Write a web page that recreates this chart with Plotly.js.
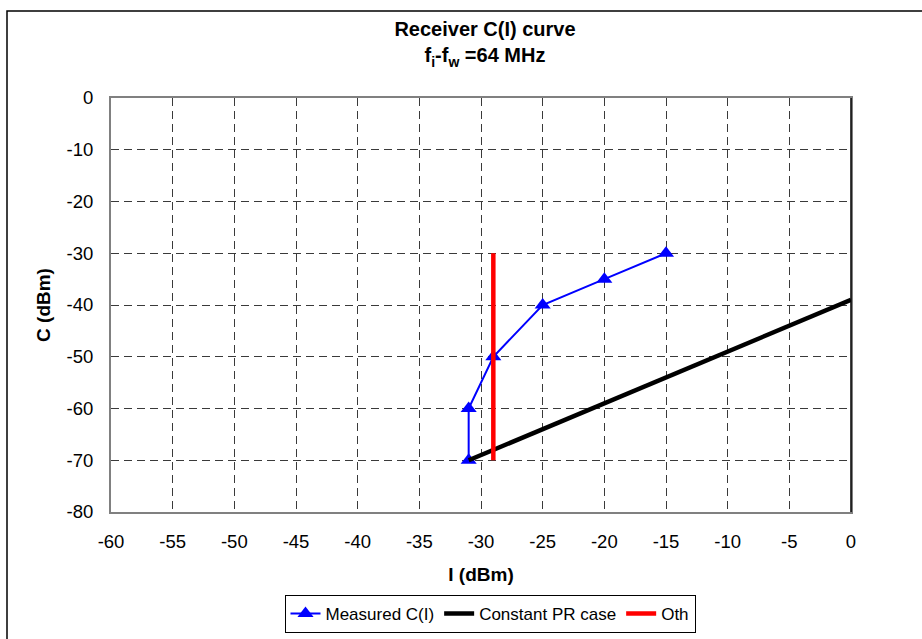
<!DOCTYPE html>
<html>
<head>
<meta charset="utf-8">
<script src="https://cdn.plot.ly/plotly-3.0.1.min.js"></script>
<style>html,body{margin:0;padding:0;background:#fff;}#chart{width:922px;height:639px;}</style>
</head>
<body>
<div id="chart"></div>
<script>
// Measured C(I)
const measuredI = [-31, -31, -29, -25, -20, -15];
const measuredC = [-70, -60, -50, -40, -35, -30];
// Constant PR case
const prI = [-31, 0];
const prC = [-70, -39];
// Oth
const othI = [-29, -29];
const othC = [-70, -30];

const xTicks = [-60,-55,-50,-45,-40,-35,-30,-25,-20,-15,-10,-5,0];
const yTicks = [0,-10,-20,-30,-40,-50,-60,-70,-80];

const FONT = 'Liberation Sans, Arial, sans-serif';
const L = 111, R = 71, T = 98, B = 127, W = 922, H = 639;
const pw = W - L - R, ph = H - T - B;
const px = v => (v - L) / pw;
const py = v => (H - B - v) / ph;

const traces = [
  {x: measuredI, y: measuredC, name: 'Measured C(I)', mode: 'lines+markers',
   line: {color: '#0000FF', width: 2}, marker: {symbol: 'triangle-up', size: 14, color: '#0000FF'}},
  {x: prI, y: prC, name: 'Constant PR case', mode: 'lines',
   line: {color: '#000000', width: 4.5}},
  {x: othI, y: othC, name: 'Oth', mode: 'lines',
   line: {color: '#FF0000', width: 4.5}}
];

const layout = {
  width: W, height: H,
  margin: {l: L, r: R, t: T, b: B, autoexpand: false},
  paper_bgcolor: '#fff', plot_bgcolor: '#fff',
  font: {family: FONT, size: 18.5, color: '#000'},
  title: {text: '<b>Receiver C(I) curve</b><br><b>f<sub>i</sub>-f<sub>w</sub> =64 MHz</b>',
          font: {family: FONT, size: 20, color: '#000'}, xref: 'container', x: 485 / W, xanchor: 'center',
          yref: 'container', y: 0.943, yanchor: 'top'},
  xaxis: {range: [-60, 0], tickvals: xTicks, ticktext: xTicks.map(String),
          showgrid: true, gridcolor: '#3a3a3a', gridwidth: 1, griddash: '8px,5px',
          zeroline: false, showline: true, linecolor: '#808080', linewidth: 2, mirror: true,
          ticks: '', tickfont: {size: 18.5}, ticklabelstandoff: 12, fixedrange: true,
          title: {text: '<b>I (dBm)</b>', font: {size: 19}, standoff: 16}},
  yaxis: {range: [-80, 0], tickvals: yTicks, ticktext: yTicks.map(String),
          showgrid: true, gridcolor: '#3a3a3a', gridwidth: 1, griddash: '8px,5px',
          zeroline: false, showline: true, linecolor: '#808080', linewidth: 2, mirror: true,
          ticks: '', tickfont: {size: 18.5}, ticklabelstandoff: 12, fixedrange: true,
          title: {text: '<b>C (dBm)</b>', font: {size: 19}, standoff: 11}},
  legend: {orientation: 'h', xref: 'container', x: 490 / W, xanchor: 'center',
           yref: 'container', y: (H - 614) / H, yanchor: 'middle',
           bordercolor: '#000', borderwidth: 1, bgcolor: '#fff',
           font: {size: 17}, itemwidth: 30, tracegroupgap: 0},
  showlegend: true,
  shapes: [
    {type: 'rect', xref: 'paper', yref: 'paper', x0: px(7), x1: px(940), y0: py(660), y1: py(11),
     line: {color: '#000', width: 1.5}, fillcolor: 'rgba(0,0,0,0)', layer: 'below'},
    {type: 'line', xref: 'paper', yref: 'paper', x0: 1, x1: 1, y0: 0, y1: 1,
     line: {color: '#000', width: 1.5}}
  ]
};

Plotly.newPlot('chart', traces, layout, {displayModeBar: false, staticPlot: true});
</script>
</body>
</html>
